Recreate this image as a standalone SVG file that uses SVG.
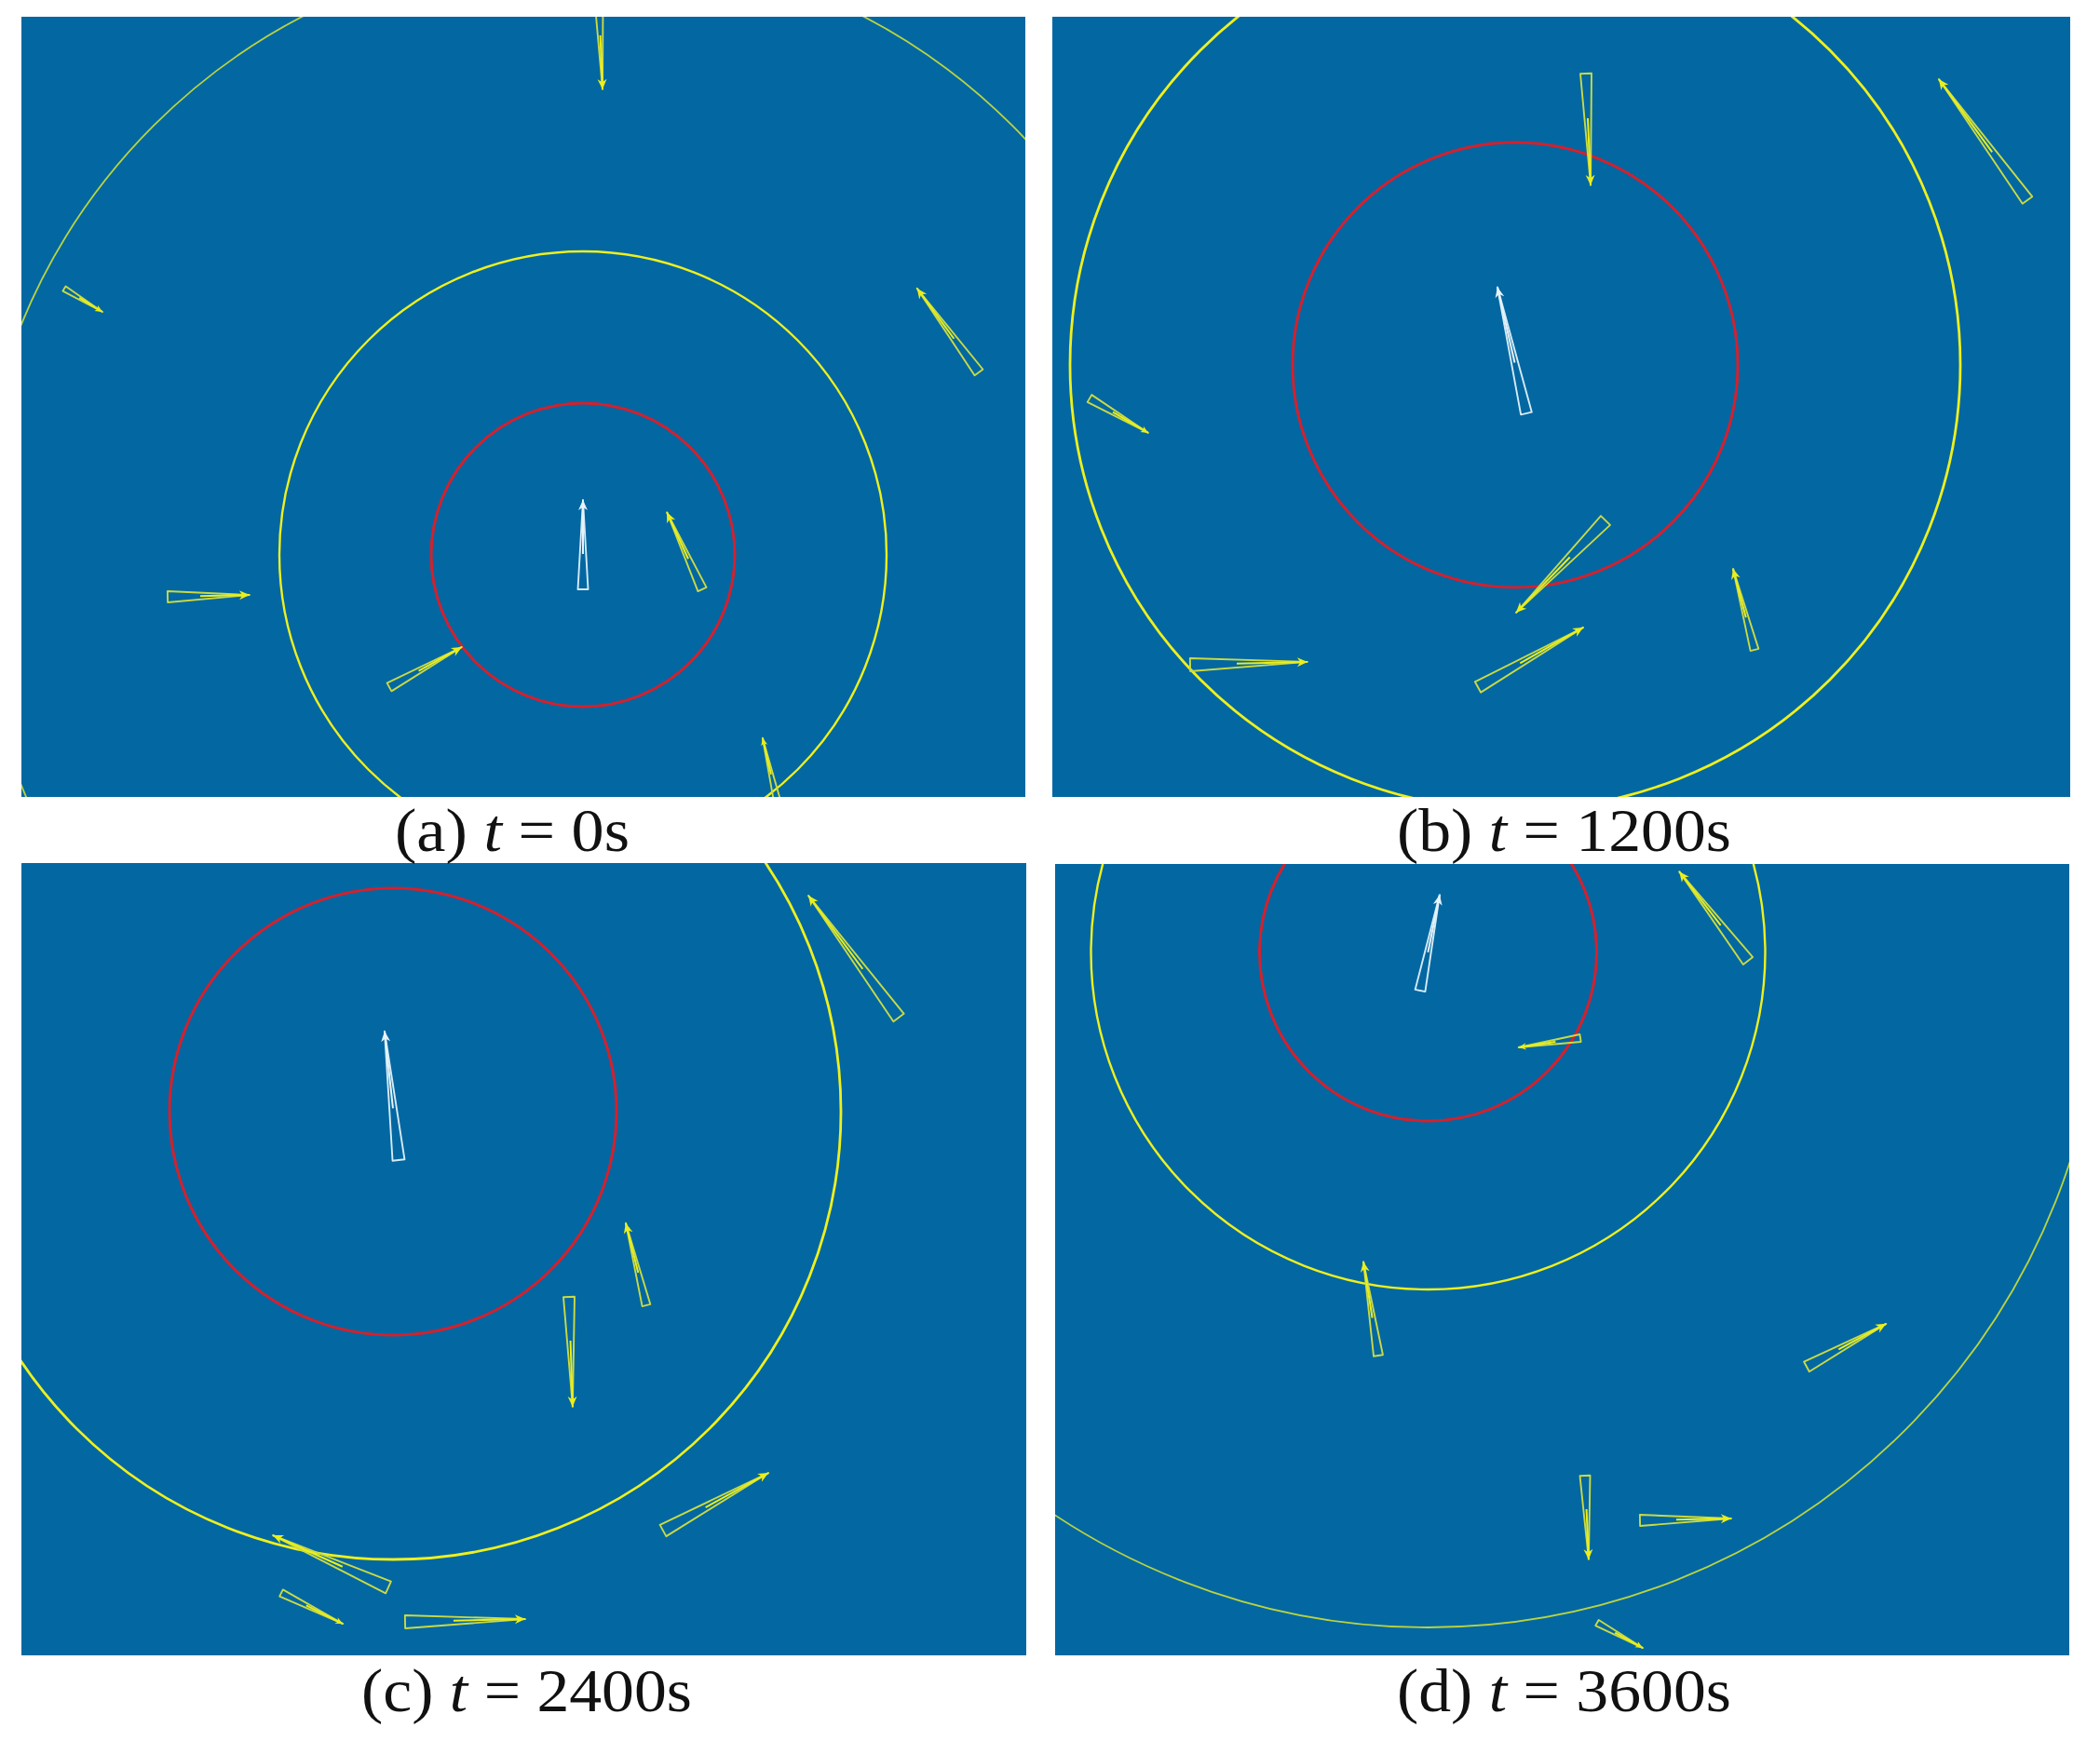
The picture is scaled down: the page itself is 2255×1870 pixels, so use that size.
<svg xmlns="http://www.w3.org/2000/svg" width="2255" height="1870" viewBox="0 0 2255 1870">
<style>
.bg{fill:#0367a2}
.red{fill:none;stroke:#d3212d;stroke-width:3}
.yel{fill:none;stroke:#eef01e;stroke-width:2.4}
.outer{fill:none;stroke:#b9d440;stroke-width:1.8}
.hull{fill:none;stroke:#c9da44;stroke-width:1.9;stroke-linejoin:round}
.vec{fill:none;stroke:#eaef1c;stroke-width:2}
.own .hull{stroke:#d6ebf5}
.own .vec{stroke:#e6f3fa}
.lbl{font-family:"Liberation Serif","Times New Roman",serif;font-size:66px;fill:#111}
</style>
<defs>
<marker id="ahY" viewBox="0 0 10 10" refX="10" refY="5" markerWidth="13" markerHeight="11" markerUnits="userSpaceOnUse" orient="auto"><path d="M0,0.5 L10,5 L0,9.5 L3,5 Z" fill="#eaef1c"/></marker>
<marker id="ahW" viewBox="0 0 10 10" refX="10" refY="5" markerWidth="13" markerHeight="11" markerUnits="userSpaceOnUse" orient="auto"><path d="M0,0.5 L10,5 L0,9.5 L3,5 Z" fill="#e6f3fa"/></marker>
<marker id="ahS" viewBox="0 0 10 10" refX="10" refY="5" markerWidth="9" markerHeight="8" markerUnits="userSpaceOnUse" orient="auto"><path d="M0,0.5 L10,5 L0,9.5 L3,5 Z" fill="#eaef1c"/></marker>
<clipPath id="cA"><rect x="23" y="18" width="1078" height="838"/></clipPath>
<clipPath id="cB"><rect x="1130" y="18" width="1093" height="838"/></clipPath>
<clipPath id="cC"><rect x="23" y="927" width="1079" height="851"/></clipPath>
<clipPath id="cD"><rect x="1133" y="928" width="1089" height="850"/></clipPath>
</defs>
<rect width="2255" height="1870" fill="#ffffff"/>

<g id="panel-a" clip-path="url(#cA)">
<rect class="bg" x="23" y="18" width="1078" height="838"/>
<circle class="outer" cx="626" cy="596" r="652"/>
<circle class="yel" cx="626" cy="596" r="326"/>
<circle class="red" cx="626" cy="596" r="163"/>
<g transform="translate(643,0) rotate(87.6)"><path class="hull" d="M0,-4.5 V4.5 L96,0 Z"/><path class="vec" d="M38,0 H96" marker-end="url(#ahY)"/></g>
<g transform="translate(69,310) rotate(31.4)"><path class="hull" d="M0,-3 V3 L48,0 Z"/><path class="vec" d="M19,0 H48" marker-end="url(#ahS)"/></g>
<g transform="translate(1051,400) rotate(-126.3)"><path class="hull" d="M0,-5.5 V5.5 L112,0 Z"/><path class="vec" d="M45,0 H112" marker-end="url(#ahY)"/></g>
<g transform="translate(180,641) rotate(-1.3)"><path class="hull" d="M0,-6 V6 L88,0 Z"/><path class="vec" d="M35,0 H88" marker-end="url(#ahY)"/></g>
<g transform="translate(418,738) rotate(-28.9)"><path class="hull" d="M0,-5 V5 L89,0 Z"/><path class="vec" d="M36,0 H89" marker-end="url(#ahY)"/></g>
<g transform="translate(754,633) rotate(-114.6)"><path class="hull" d="M0,-5 V5 L91,0 Z"/><path class="vec" d="M36,0 H91" marker-end="url(#ahY)"/></g>
<g class="own" transform="translate(626,633) rotate(-90)"><path class="hull" d="M0,-5.5 V5.5 L96,0 Z"/><path class="vec" d="M38,0 H96" marker-end="url(#ahW)"/></g>
<g transform="translate(834,858) rotate(-103)"><path class="hull" d="M0,-3.5 V3.5 L67,0 Z"/><path class="vec" d="M27,0 H67" marker-end="url(#ahS)"/></g>
</g>

<g id="panel-b" clip-path="url(#cB)">
<rect class="bg" x="1130" y="18" width="1093" height="838"/>
<circle class="yel" cx="1627" cy="392" r="478" style="stroke-width:2.8"/>
<circle class="red" cx="1627" cy="392" r="239"/>
<g transform="translate(1703,79) rotate(87.6)"><path class="hull" d="M0,-6 V6 L120,0 Z"/><path class="vec" d="M48,0 H120" marker-end="url(#ahY)"/></g>
<g transform="translate(2177,215) rotate(-126.2)"><path class="hull" d="M0,-6.5 V6.5 L161,0 Z"/><path class="vec" d="M64,0 H161" marker-end="url(#ahY)"/></g>
<g class="own" transform="translate(1639,444) rotate(-102.9)"><path class="hull" d="M0,-6 V6 L139,0 Z"/><path class="vec" d="M56,0 H139" marker-end="url(#ahW)"/></g>
<g transform="translate(1170,428) rotate(30.4)"><path class="hull" d="M0,-4.5 V4.5 L73,0 Z"/><path class="vec" d="M29,0 H73" marker-end="url(#ahS)"/></g>
<g transform="translate(1724,559) rotate(134.1)"><path class="hull" d="M0,-7 V7 L138,0 Z"/><path class="vec" d="M55,0 H138" marker-end="url(#ahY)"/></g>
<g transform="translate(1884,698) rotate(-104.8)"><path class="hull" d="M0,-4.5 V4.5 L90,0 Z"/><path class="vec" d="M36,0 H90" marker-end="url(#ahY)"/></g>
<g transform="translate(1278,714) rotate(-1.4)"><path class="hull" d="M0,-7 V7 L126,0 Z"/><path class="vec" d="M50,0 H126" marker-end="url(#ahY)"/></g>
<g transform="translate(1587,738) rotate(-29.5)"><path class="hull" d="M0,-6.5 V6.5 L130,0 Z"/><path class="vec" d="M52,0 H130" marker-end="url(#ahY)"/></g>
</g>

<g id="panel-c" clip-path="url(#cC)">
<rect class="bg" x="23" y="927" width="1079" height="851"/>
<circle class="yel" cx="422" cy="1194" r="481" style="stroke-width:2.8"/>
<circle class="red" cx="422" cy="1194" r="240"/>
<g transform="translate(965,1093) rotate(-126.5)"><path class="hull" d="M0,-7 V7 L163,0 Z"/><path class="vec" d="M65,0 H163" marker-end="url(#ahY)"/></g>
<g class="own" transform="translate(428,1246) rotate(-96.2)"><path class="hull" d="M0,-6.5 V6.5 L139,0 Z"/><path class="vec" d="M56,0 H139" marker-end="url(#ahW)"/></g>
<g transform="translate(694,1402) rotate(-104)"><path class="hull" d="M0,-4.5 V4.5 L91,0 Z"/><path class="vec" d="M36,0 H91" marker-end="url(#ahY)"/></g>
<g transform="translate(611,1393) rotate(88.1)"><path class="hull" d="M0,-6 V6 L118,0 Z"/><path class="vec" d="M47,0 H118" marker-end="url(#ahY)"/></g>
<g transform="translate(712,1644) rotate(-28.7)"><path class="hull" d="M0,-7 V7 L129,0 Z"/><path class="vec" d="M52,0 H129" marker-end="url(#ahY)"/></g>
<g transform="translate(417,1705) rotate(-155.7)"><path class="hull" d="M0,-7 V7 L136,0 Z"/><path class="vec" d="M54,0 H136" marker-end="url(#ahY)"/></g>
<g transform="translate(302,1711) rotate(26.6)"><path class="hull" d="M0,-4 V4 L74,0 Z"/><path class="vec" d="M30,0 H74" marker-end="url(#ahS)"/></g>
<g transform="translate(435,1742) rotate(-1.3)"><path class="hull" d="M0,-7 V7 L129,0 Z"/><path class="vec" d="M52,0 H129" marker-end="url(#ahY)"/></g>
</g>

<g id="panel-d" clip-path="url(#cD)">
<rect class="bg" x="1133" y="928" width="1089" height="850"/>
<circle class="outer" cx="1533.5" cy="1023" r="725"/>
<circle class="yel" cx="1533.5" cy="1023" r="362"/>
<circle class="red" cx="1533.5" cy="1023" r="181"/>
<g class="own" transform="translate(1525,1064) rotate(-78.5)"><path class="hull" d="M0,-5.5 V5.5 L105,0 Z"/><path class="vec" d="M42,0 H105" marker-end="url(#ahW)"/></g>
<g transform="translate(1877,1032) rotate(-127.6)"><path class="hull" d="M0,-6.5 V6.5 L121,0 Z"/><path class="vec" d="M48,0 H121" marker-end="url(#ahY)"/></g>
<g transform="translate(1697,1115) rotate(171.4)"><path class="hull" d="M0,-4 V4 L67,0 Z"/><path class="vec" d="M27,0 H67" marker-end="url(#ahS)"/></g>
<g transform="translate(1480,1456) rotate(-99)"><path class="hull" d="M0,-5 V5 L102,0 Z"/><path class="vec" d="M41,0 H102" marker-end="url(#ahY)"/></g>
<g transform="translate(1940,1468) rotate(-28.4)"><path class="hull" d="M0,-6 V6 L97,0 Z"/><path class="vec" d="M39,0 H97" marker-end="url(#ahY)"/></g>
<g transform="translate(1702,1585) rotate(87.5)"><path class="hull" d="M0,-5.5 V5.5 L90,0 Z"/><path class="vec" d="M36,0 H90" marker-end="url(#ahY)"/></g>
<g transform="translate(1761,1633) rotate(-1.2)"><path class="hull" d="M0,-6 V6 L98,0 Z"/><path class="vec" d="M39,0 H98" marker-end="url(#ahY)"/></g>
<g transform="translate(1715,1743) rotate(28.9)"><path class="hull" d="M0,-3.5 V3.5 L56,0 Z"/><path class="vec" d="M22,0 H56" marker-end="url(#ahS)"/></g>
</g>

<g id="labels">
<text class="lbl" x="424" y="914" textLength="252" lengthAdjust="spacingAndGlyphs">(a) <tspan font-style="italic">t</tspan> = 0s</text>
<text class="lbl" x="1500" y="914" textLength="359" lengthAdjust="spacingAndGlyphs">(b) <tspan font-style="italic">t</tspan> = 1200s</text>
<text class="lbl" x="388" y="1838" textLength="355" lengthAdjust="spacingAndGlyphs">(c) <tspan font-style="italic">t</tspan> = 2400s</text>
<text class="lbl" x="1500" y="1838" textLength="359" lengthAdjust="spacingAndGlyphs">(d) <tspan font-style="italic">t</tspan> = 3600s</text>
</g>
</svg>
